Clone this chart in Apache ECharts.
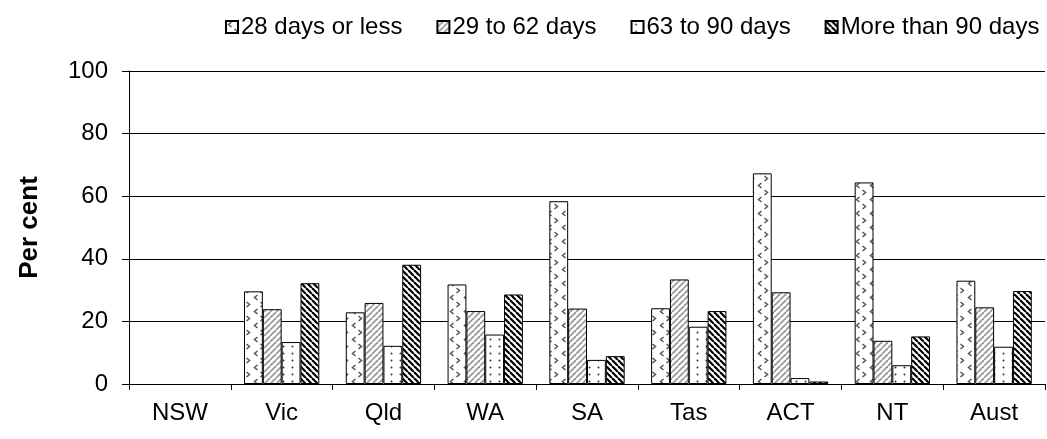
<!DOCTYPE html>
<html><head><meta charset="utf-8">
<script src="https://cdn.jsdelivr.net/npm/echarts@6/dist/echarts.min.js"></script>
<style>html,body{margin:0;padding:0;background:#fff}#c{width:1047px;height:439px}</style>
</head><body><div id="c"></div>
<script>
const categories = ['NSW','Vic','Qld','WA','SA','Tas','ACT','NT','Aust'];
const seriesNames = ['28 days or less','29 to 62 days','63 to 90 days','More than 90 days'];
const days28orLess = [null, 29.6, 22.9, 31.8, 58.4, 24.2, 67.3, 64.4, 33.0];
const days29to62 = [null, 23.9, 25.9, 23.3, 24.1, 33.4, 29.3, 13.8, 24.5];
const days63to90 = [null, 13.4, 12.2, 15.8, 7.7, 18.3, 1.9, 6.0, 11.9];
const daysOver90 = [null, 32.2, 38.1, 28.6, 8.9, 23.3, 0.8, 15.2, 29.7];
const yMin = 0, yMax = 100, yStep = 20;

function tile(w, h, draw) {
  const c = document.createElement('canvas');
  c.width = w; c.height = h;
  const ctx = c.getContext('2d');
  ctx.fillStyle = '#fff'; ctx.fillRect(0, 0, w, h);
  draw(ctx, w, h);
  return c;
}
function stripes(ctx, s, color, lw, up) {
  ctx.strokeStyle = color; ctx.lineWidth = lw;
  for (let k = -1; k <= 1; k++) {
    ctx.beginPath();
    if (up) { ctx.moveTo(k * s, s); ctx.lineTo(k * s + s, 0); }
    else { ctx.moveTo(k * s, 0); ctx.lineTo(k * s + s, s); }
    ctx.stroke();
  }
}
const pat1 = tile(14, 14, (ctx) => {
  ctx.strokeStyle = '#555'; ctx.lineWidth = 1.5;
  ctx.beginPath(); ctx.moveTo(5.5, 1); ctx.lineTo(2.5, 3.5); ctx.lineTo(5.5, 6); ctx.stroke();
  ctx.beginPath(); ctx.moveTo(8.5, 8); ctx.lineTo(11.5, 10.5); ctx.lineTo(8.5, 13); ctx.stroke();
});
const pat2 = tile(6, 6, (ctx) => stripes(ctx, 6, '#9a9a9a', 1.8, true));
const pat3 = tile(9, 7, (ctx) => {
  ctx.fillStyle = '#333'; ctx.beginPath(); ctx.arc(4.5, 3.5, 1, 0, Math.PI * 2); ctx.fill();
});
const pat4 = tile(6, 6, (ctx) => stripes(ctx, 6, '#000', 2.2, false));
const patterns = [pat1, pat2, pat3, pat4];
const values = [days28orLess, days29to62, days63to90, daysOver90];

const chart = echarts.init(document.getElementById('c'), null, {renderer: 'canvas'});
const font = '"Liberation Sans", Arial, sans-serif';
chart.setOption({
  animation: false,
  backgroundColor: '#fff',
  textStyle: {fontFamily: font},
  legend: {
    top: 10, left: 220, icon: 'rect', itemWidth: 12, itemHeight: 12, itemGap: 34,
    textStyle: {fontSize: 24, color: '#000', fontFamily: font, padding: [0, 0, 0, -2]},
    data: seriesNames
  },
  grid: {left: 129, right: 2, top: 71, bottom: 55, containLabel: false},
  xAxis: {
    type: 'category', data: categories,
    axisLine: {lineStyle: {color: '#000', width: 1}},
    axisTick: {show: true, length: 6, lineStyle: {color: '#000'}},
    axisLabel: {color: '#000', fontSize: 24, margin: 17, fontFamily: font},
    splitLine: {show: false}
  },
  yAxis: {
    type: 'value', min: yMin, max: yMax, interval: yStep,
    name: 'Per cent', nameLocation: 'middle', nameGap: 86,
    nameTextStyle: {fontSize: 26, fontWeight: 'bold', color: '#000', fontFamily: font},
    axisLine: {show: true, lineStyle: {color: '#000', width: 1}},
    axisTick: {show: true, inside: false, length: 7, lineStyle: {color: '#000'}},
    axisLabel: {color: '#000', fontSize: 24, margin: 21, fontFamily: font},
    splitLine: {show: true, lineStyle: {color: '#000', width: 1}}
  },
  series: seriesNames.map((n, i) => ({
    name: n, type: 'bar', data: values[i],
    barGap: '0%', barCategoryGap: '26%',
    itemStyle: {color: {image: patterns[i], repeat: 'repeat'}, borderColor: '#000', borderWidth: 1}
  }))
});
</script></body></html>
